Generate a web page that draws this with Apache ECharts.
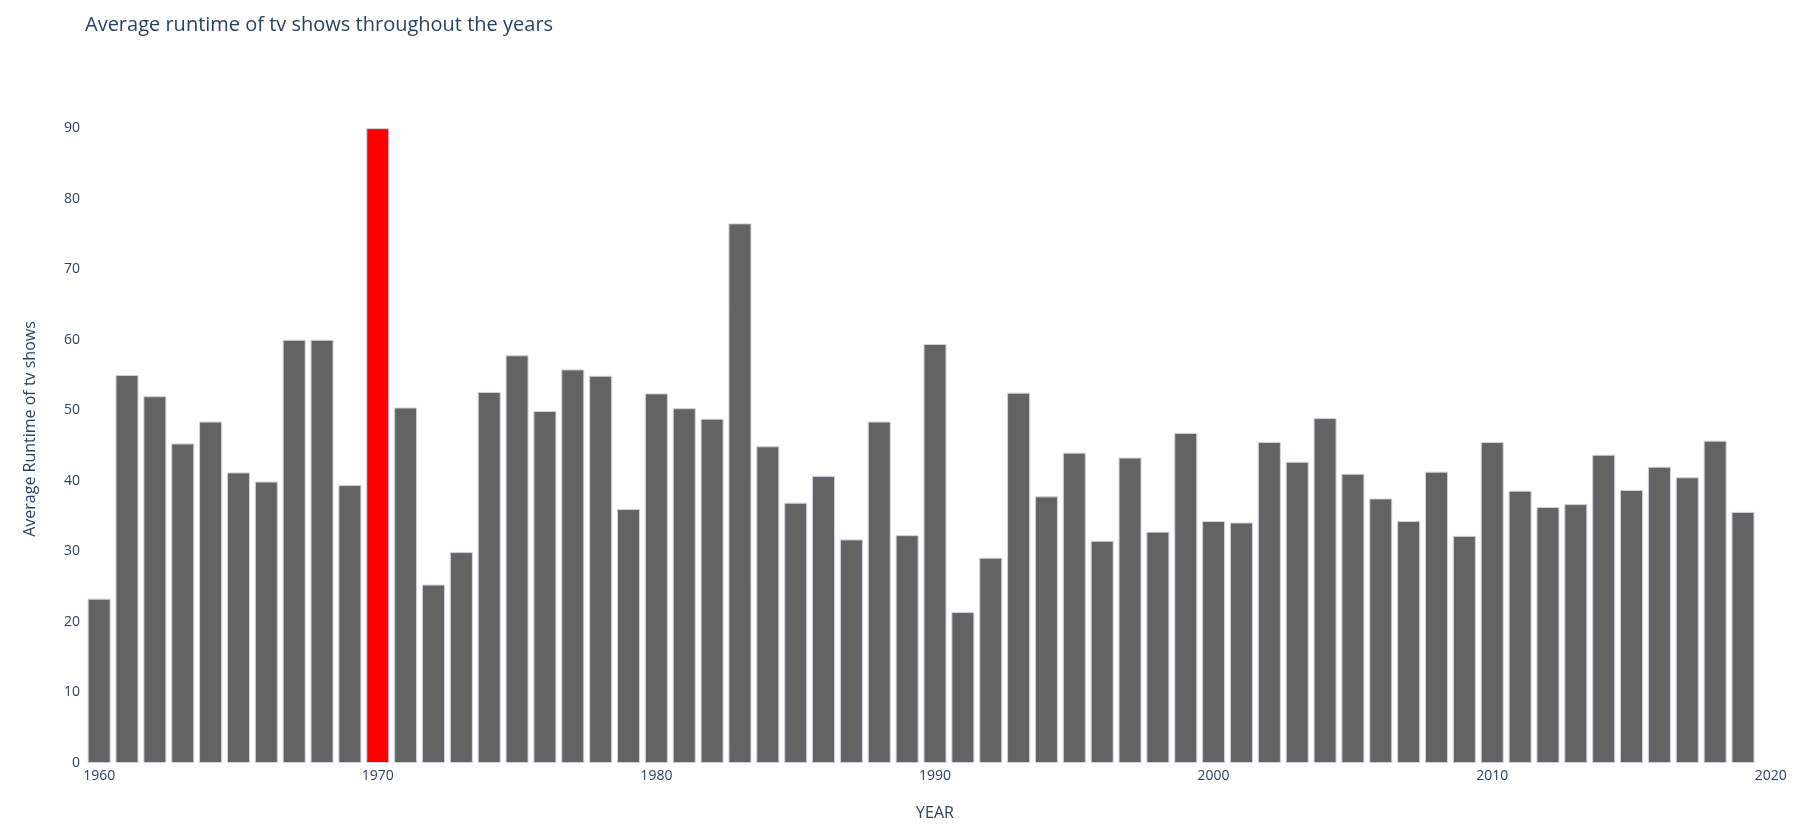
<!DOCTYPE html>
<html>
<head>
<meta charset="utf-8">
<script src="https://cdn.jsdelivr.net/npm/echarts@6/dist/echarts.min.js"></script>
<style>html,body{margin:0;padding:0;background:#fff}#main{width:1815px;height:830px}</style>
</head>
<body>
<div id="main"></div>
<script>
var years = [];
for (var y = 1960; y <= 2019; y++) years.push(y);
var runtimes = [23.3, 55, 52, 45.3, 48.4, 41.2, 39.9, 60, 60, 39.4,
    90, 50.4, 25.3, 29.9, 52.6, 57.8, 49.9, 55.8, 54.9, 36,
    52.4, 50.3, 48.8, 76.5, 44.9, 36.9, 40.7, 31.7, 48.4, 32.3,
    59.4, 21.4, 29.1, 52.5, 37.8, 44, 31.5, 43.3, 32.8, 46.8,
    34.3, 34.1, 45.5, 42.7, 48.9, 41, 37.5, 34.3, 41.3, 32.2,
    45.5, 38.6, 36.3, 36.7, 43.7, 38.7, 42, 40.5, 45.7, 35.6];
var highlightYear = 1970;
var xTicks = [1960, 1970, 1980, 1990, 2000, 2010, 2020];

var chartDom = document.getElementById('main');
var myChart = echarts.init(chartDom);
var textColor = '#2a3f5f';

var option = {
    animation: false,
    title: {
        text: 'Average runtime of tv shows throughout the years',
        left: 80, top: 10,
        textStyle: { color: textColor, fontSize: 20, fontWeight: 'normal', fontFamily: 'Open Sans' }
    },
    grid: { left: 88, right: 33, top: 95, bottom: 67 },
    xAxis: {
        type: 'value',
        min: 1959.6, max: 2020.4,
        name: 'YEAR', nameLocation: 'middle', nameGap: 42,
        nameTextStyle: { color: textColor, fontSize: 16, fontFamily: 'Open Sans' },
        axisLine: { show: false },
        axisTick: { show: false },
        splitLine: { show: false },
        axisLabel: {
            customValues: xTicks,
            color: textColor, fontSize: 14, fontFamily: 'Open Sans', margin: 6,
            formatter: function (v) { return String(v); }
        }
    },
    yAxis: {
        type: 'value',
        min: 0, max: 94.7, interval: 10,
        name: 'Average Runtime of tv shows', nameLocation: 'middle', nameGap: 50,
        nameTextStyle: { color: textColor, fontSize: 16, fontFamily: 'Open Sans' },
        axisLine: { show: false },
        axisTick: { show: false },
        splitLine: { show: false },
        axisLabel: {
            color: textColor, fontSize: 14, fontFamily: 'Open Sans',
            formatter: function (v) { return v > 90 ? '' : v; }
        }
    },
    series: [{
        type: 'bar',
        barWidth: 23,
        data: years.map(function (yr, i) {
            return {
                value: [yr, runtimes[i]],
                itemStyle: { color: yr === highlightYear ? '#ff0000' : '#636363' }
            };
        }),
        itemStyle: { borderColor: '#d0d3de', borderWidth: 1 }
    }]
};

myChart.setOption(option);
</script>
</body>
</html>
